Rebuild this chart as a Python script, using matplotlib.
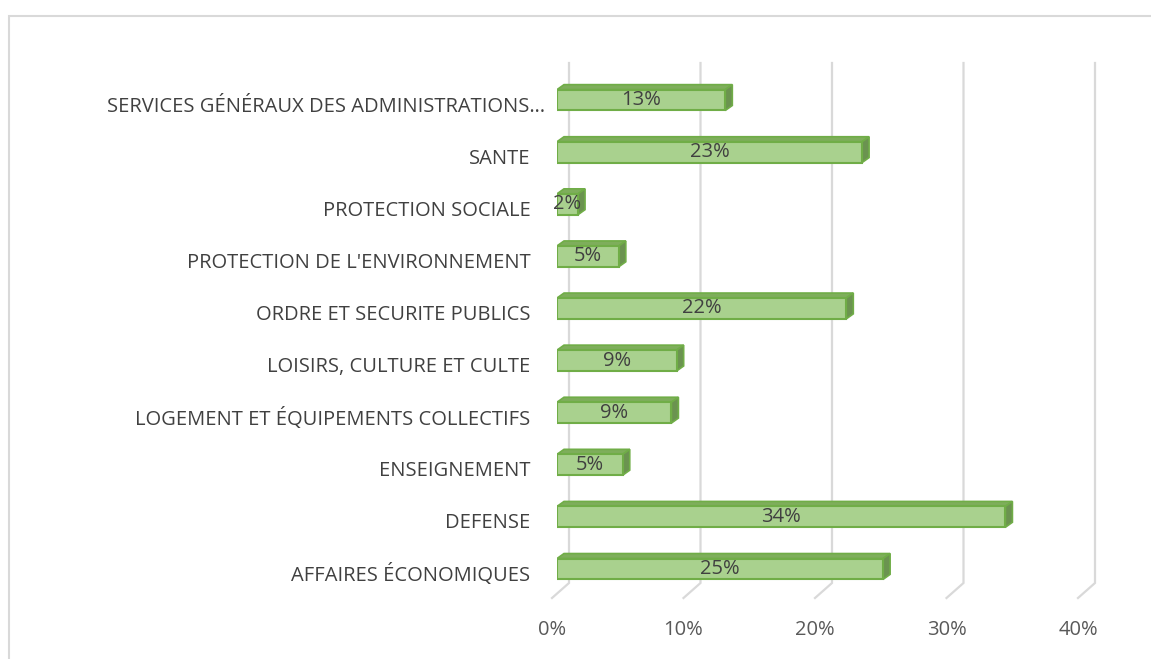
import matplotlib
matplotlib.use("Agg")
import matplotlib.pyplot as plt
import matplotlib.transforms as mtransforms
from matplotlib.patches import Polygon, Rectangle

# Données (de bas en haut)
categories = ["AFFAIRES ÉCONOMIQUES", "DEFENSE", "ENSEIGNEMENT",
              "LOGEMENT ET ÉQUIPEMENTS COLLECTIFS", "LOISIRS, CULTURE ET CULTE",
              "ORDRE ET SECURITE PUBLICS", "PROTECTION DE L'ENVIRONNEMENT",
              "PROTECTION SOCIALE", "SANTE",
              "SERVICES GÉNÉRAUX DES ADMINISTRATIONS…"]
values = [24.8, 34.1, 5.0, 8.7, 9.1, 22.0, 4.7, 1.6, 23.2, 12.8]
bar_labels = ["25%", "34%", "5%", "9%", "9%", "22%", "5%", "2%", "23%", "13%"]
ticks = [0, 10, 20, 30, 40]
tick_labels = ["0%", "10%", "20%", "30%", "40%"]

plt.rcParams['font.family'] = ['Open Sans', 'DejaVu Sans']
fs = 14.5

W, H = 1151, 659
fig = plt.figure(figsize=(W / 100, H / 100), dpi=100)
ax = fig.add_axes([557 / W, (H - 595) / H, 526 / W, 521 / H])
ax.set_xlim(0, 40)
ax.set_ylim(-0.5, 9.5)

# pixels -> unités de données
px_x = 40 / 526
px_y = 10 / 521

grid_col = '#D9D9D9'
y_floor = -0.5 + 12 * px_y
y_front = -0.5 - 3 * px_y
y_top = -0.5 + (595 - 63) * px_y
for t, lab in zip(ticks, tick_labels):
    xb = t + 12 * px_x
    xf = t - 5 * px_x
    ax.plot([xb, xb, xf], [y_top, y_floor, y_front], color=grid_col, lw=1.6,
            clip_on=False, zorder=1, solid_joinstyle='miter')
    ax.text(xf, y_front - 32 * px_y, lab, ha='center', va='center',
            fontsize=fs, color='#595959', clip_on=False)

# barres 3D
h = 0.40
dx = 7 * px_x
dy = 5 * px_y
front = '#A9D18E'
edge = '#70AD47'
top_col = '#7EAE5B'
side_col = '#6B9350'
for i, v in enumerate(values):
    yt = i + h / 2
    yb = i - h / 2
    ax.add_patch(Polygon([(0, yt), (v, yt), (v + dx, yt + dy), (dx, yt + dy)],
                         closed=True, facecolor=top_col, edgecolor=edge, lw=1.2, zorder=3))
    ax.add_patch(Polygon([(v, yb), (v, yt), (v + dx, yt + dy), (v + dx, yb + dy)],
                         closed=True, facecolor=side_col, edgecolor=edge, lw=1.2, zorder=3))
ax.barh(range(len(values)), values, height=h, color=front, edgecolor=edge, lw=1.5, zorder=4)

for i, (v, lab) in enumerate(zip(values, bar_labels)):
    ax.text(v / 2, i, lab, ha='center', va='center', fontsize=fs, color='#404040', zorder=5)

ax.set_yticks(range(len(categories)))
ax.set_yticklabels(categories, fontsize=fs, color='#404040')
ax.tick_params(axis='y', length=0, pad=19)
for k, lbl in enumerate(ax.get_yticklabels()):
    shift_x = 15 if lbl.get_text().endswith('…') else 0
    lbl.set_transform(lbl.get_transform() +
                      mtransforms.ScaledTranslation(shift_x / 100, -4 / 100, fig.dpi_scale_trans))
ax.set_xticks([])
for s in ax.spines.values():
    s.set_visible(False)
ax.patch.set_visible(False)

# cadre du graphique
fig.patches.append(Rectangle((8.5 / W, -0.05), 1.2, (H - 15.5) / H + 0.05,
                             transform=fig.transFigure, fill=False,
                             edgecolor=grid_col, lw=1.5))

fig.savefig('out.png', dpi=100)
